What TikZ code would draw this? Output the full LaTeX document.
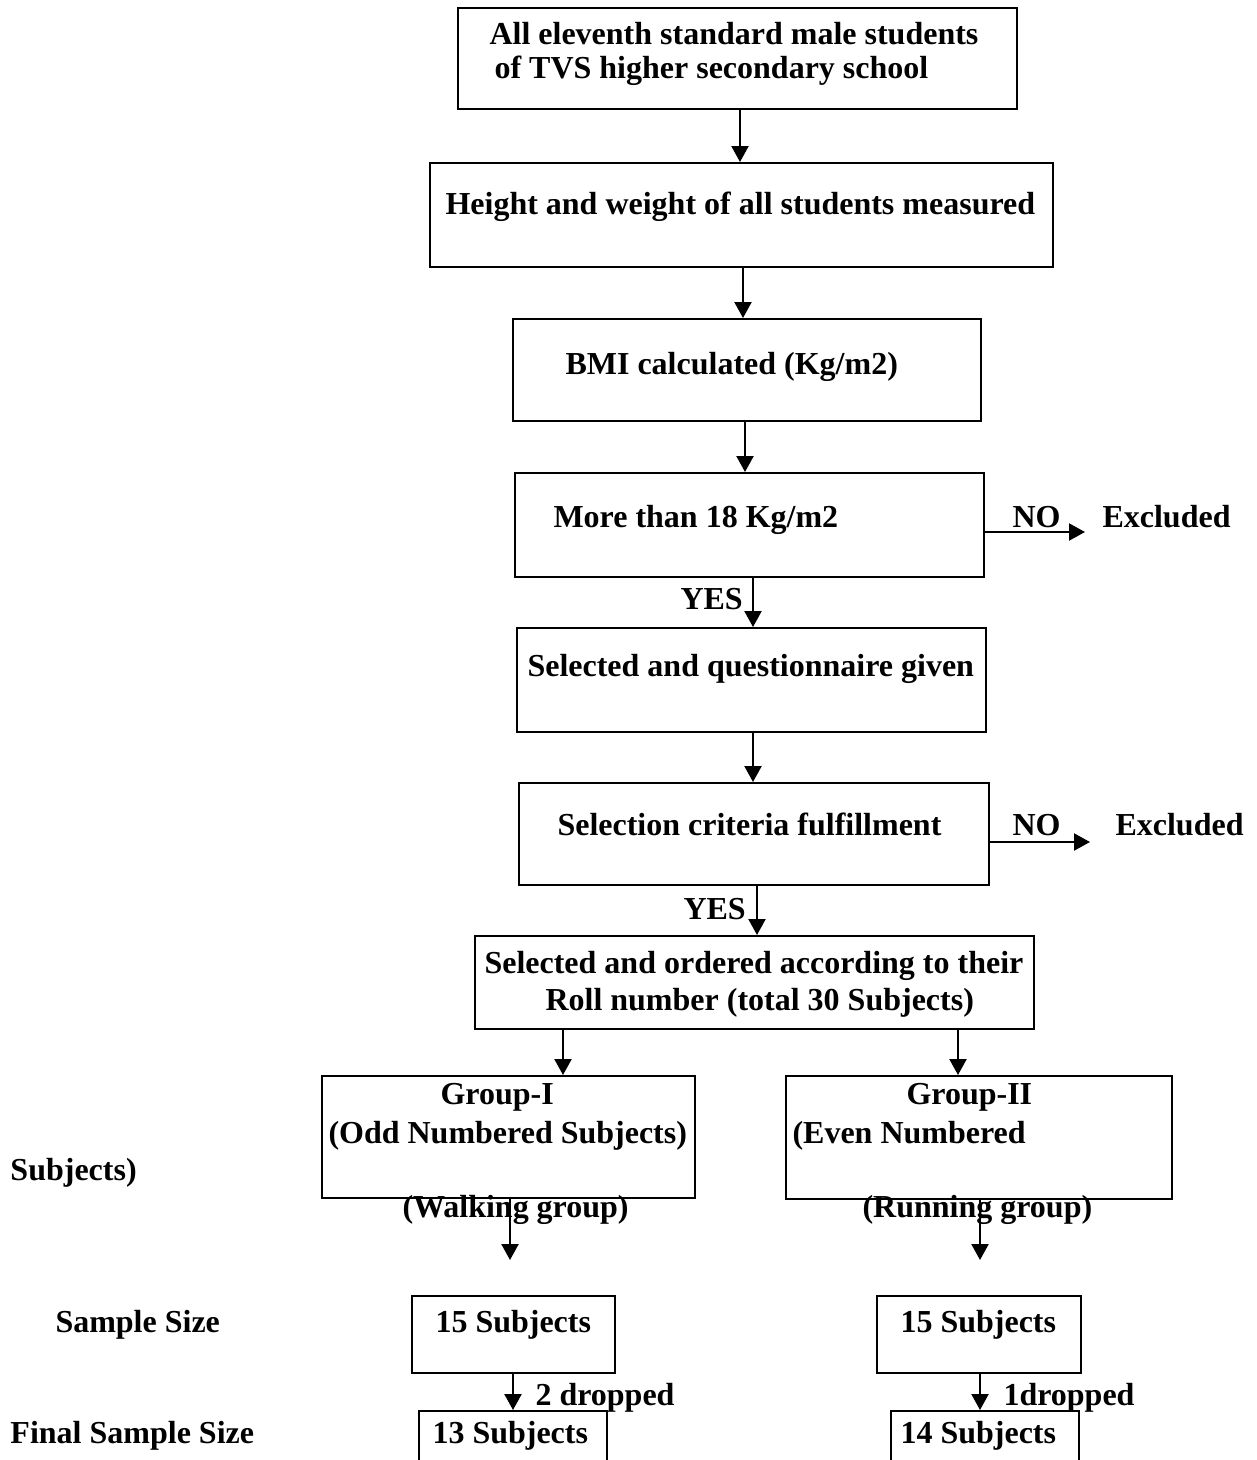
\documentclass[tikz,border=0pt]{standalone}
\usepackage{fontspec}
\setmainfont{Liberation Serif}
\usetikzlibrary{arrows.meta}
\begin{document}
\begin{tikzpicture}[x=0.4pt,y=-0.4pt,
  box/.style={draw, line width=0.8pt, inner sep=0pt, anchor=north west},
  txt/.style={anchor=base west, inner sep=0pt, font=\bfseries\fontsize{12.8}{15}\selectfont},
  arr/.style={line width=0.9pt, -{Triangle[length=6.4pt,width=6.8pt]}}]
\useasboundingbox (0,0) rectangle (1257,1460);
\clip (0,0) rectangle (1257,1460);
% boxes
\node[box, minimum width=223.6pt, minimum height=40.4pt] (b1) at (457,7) {};
\node[box, minimum width=249.2pt, minimum height=41.6pt] (b2) at (429,162) {};
\node[box, minimum width=187.2pt, minimum height=40.8pt] (b3) at (512,318) {};
\node[box, minimum width=187.6pt, minimum height=41.6pt] (b4) at (514,472) {};
\node[box, minimum width=187.6pt, minimum height=41.6pt] (b5) at (516,627) {};
\node[box, minimum width=188pt, minimum height=40.8pt] (b6) at (518,782) {};
\node[box, minimum width=223.6pt, minimum height=37.2pt] (b7) at (474,935) {};
\node[box, minimum width=149.2pt, minimum height=48.8pt] (b8) at (321,1075) {};
\node[box, minimum width=154.4pt, minimum height=49.2pt] (b9) at (785,1075) {};
\node[box, minimum width=81.2pt, minimum height=30.8pt] (b10) at (411,1295) {};
\node[box, minimum width=81.6pt, minimum height=30.8pt] (b11) at (876,1295) {};
\node[box, minimum width=75.2pt, minimum height=32pt] (b12) at (418,1410) {};
\node[box, minimum width=75.2pt, minimum height=32pt] (b13) at (890,1410) {};
% texts
\node[txt] (t1a) at (489,44) {All eleventh standard male students};
\node[txt] (t1b) at (494,78) {of TVS higher secondary school};
\node[txt] (t2) at (445,214) {Height and weight of all students measured};
\node[txt] (t3) at (565,374) {BMI calculated (Kg/m2)};
\node[txt] (t4) at (553,527) {More than 18 Kg/m2};
\node[txt] (no1) at (1012,527) {NO};
\node[txt] (ex1) at (1102,527) {Excluded};
\node[txt] (yes1) at (680,609) {YES};
\node[txt] (t5) at (527,676) {Selected and questionnaire given};
\node[txt] (t6) at (557,835) {Selection criteria fulfillment};
\node[txt] (no2) at (1012,835) {NO};
\node[txt] (ex2) at (1115,835) {Excluded};
\node[txt] (yes2) at (683,919) {YES};
\node[txt] (t7a) at (484,973) {Selected and ordered according to their};
\node[txt] (t7b) at (545,1010) {Roll number (total 30 Subjects)};
\node[txt] (g1) at (440,1104) {Group-I};
\node[txt] (g1b) at (328,1143) {(Odd Numbered Subjects)};
\node[txt] (g1c) at (402,1217) {(Walking group)};
\node[txt] (g2) at (906,1104) {Group-II};
\node[txt] (g2b) at (792,1143) {(Even Numbered};
\node[txt] (g2c) at (862,1217) {(Running group)};
\node[txt] (subj) at (10,1180) {Subjects)};
\node[txt] (ss) at (55,1332) {Sample Size};
\node[txt] (t10) at (435,1332) {15 Subjects};
\node[txt] (t11) at (900,1332) {15 Subjects};
\node[txt] (d1) at (535,1405) {2 dropped};
\node[txt] (d2) at (1003,1405) {1dropped};
\node[txt] (fss) at (10,1443) {Final Sample Size};
\node[txt] (t12) at (432,1443) {13 Subjects};
\node[txt] (t13) at (900,1443) {14 Subjects};
% free ends
\coordinate (e1) at (1085,532);
\coordinate (e2) at (1090,842);
\coordinate (w1) at (510,1260);
\coordinate (w2) at (980,1260);
% connectors
\draw[arr] (740,0 |- b1.south) -- (740,0 |- b2.north);
\draw[arr] (743,0 |- b2.south) -- (743,0 |- b3.north);
\draw[arr] (745,0 |- b3.south) -- (745,0 |- b4.north);
\draw[arr] (753,0 |- b4.south) -- (753,0 |- b5.north);
\draw[arr] (753,0 |- b5.south) -- (753,0 |- b6.north);
\draw[arr] (757,0 |- b6.south) -- (757,0 |- b7.north);
\draw[arr] (b4.east |- e1) -- (e1);
\draw[arr] (b6.east |- e2) -- (e2);
\draw[arr] (563,0 |- b7.south) -- (563,0 |- b8.north);
\draw[arr] (958,0 |- b7.south) -- (958,0 |- b9.north);
\draw[arr] (w1 |- b8.south) -- (w1);
\draw[arr] (w2 |- b9.south) -- (w2);
\draw[arr] (513,0 |- b10.south) -- (513,0 |- b12.north);
\draw[arr] (980,0 |- b11.south) -- (980,0 |- b13.north);
\end{tikzpicture}
\end{document}
